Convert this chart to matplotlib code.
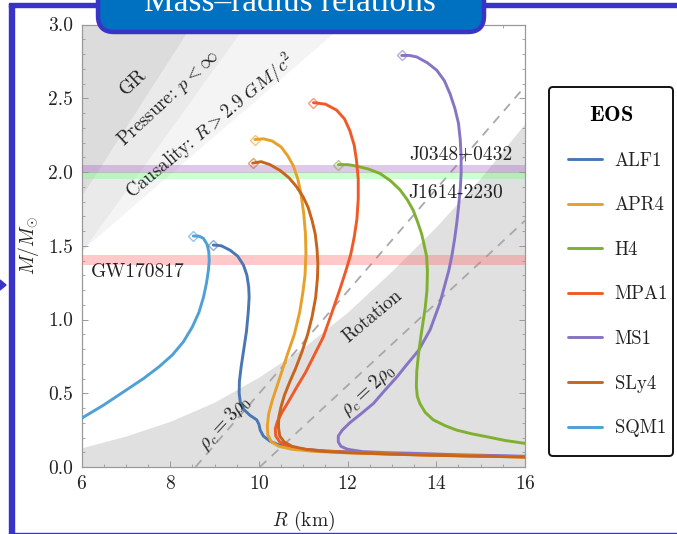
import matplotlib
matplotlib.use("Agg")
import matplotlib.pyplot as plt
import numpy as np
from matplotlib.patches import FancyBboxPatch, Rectangle, Polygon
from matplotlib.transforms import IdentityTransform
from matplotlib.ticker import MultipleLocator

plt.rcParams['font.family'] = 'serif'
plt.rcParams['font.serif'] = ['cmr10']
plt.rcParams['mathtext.fontset'] = 'cm'
plt.rcParams['axes.formatter.use_mathtext'] = True

# ---------------- data ----------------
eos_names = ["ALF1", "APR4", "H4", "MPA1", "MS1", "SLy4", "SQM1"]
eos_colors = ["#4a77b4", "#e8a02a", "#7fb030", "#f05a28", "#8774c4", "#c8641c", "#4ea0d6"]

alf1_R = [8.97, 9.15, 9.35, 9.52, 9.65, 9.73, 9.77, 9.78, 9.76, 9.72, 9.66, 9.60, 9.56, 9.555, 9.58, 9.66,
          9.80, 9.95, 10.0, 10.03, 10.10, 10.25, 10.45, 10.85, 11.5, 12.5, 13.5, 14.5, 16.0]
alf1_M = [1.505, 1.50, 1.47, 1.43, 1.37, 1.30, 1.22, 1.15, 1.05, 0.92, 0.80, 0.68, 0.58, 0.50, 0.44, 0.39,
          0.35, 0.32, 0.29, 0.25, 0.21, 0.175, 0.15, 0.125, 0.108, 0.096, 0.087, 0.079, 0.07]

apr4_R = [9.91, 10.1, 10.3, 10.5, 10.65, 10.78, 10.88, 10.95, 11.01, 11.05, 11.06, 11.04, 10.99, 10.92, 10.80,
          10.65, 10.52, 10.40, 10.30, 10.22, 10.19, 10.20, 10.28, 10.45, 10.75, 11.2, 12.0, 13.0, 14.0, 15.0, 16.0]
apr4_M = [2.22, 2.225, 2.21, 2.17, 2.11, 2.04, 1.95, 1.85, 1.72, 1.58, 1.45, 1.30, 1.18, 1.05, 0.90,
          0.77, 0.65, 0.54, 0.45, 0.36, 0.28, 0.22, 0.17, 0.14, 0.12, 0.107, 0.096, 0.087, 0.079, 0.073, 0.068]

h4_R = [11.79, 12.0, 12.2, 12.47, 12.73, 12.97, 13.18, 13.35, 13.48, 13.58, 13.67, 13.73, 13.78, 13.80, 13.79,
        13.75, 13.71, 13.65, 13.60, 13.56, 13.55, 13.57, 13.63, 13.75, 13.93, 14.2, 14.46, 14.8, 15.14, 15.55, 16.0]
h4_M = [2.05, 2.05, 2.04, 2.02, 1.99, 1.94, 1.88, 1.81, 1.74, 1.66, 1.58, 1.50, 1.43, 1.33, 1.20,
        1.08, 1.00, 0.88, 0.77, 0.65, 0.55, 0.48, 0.43, 0.37, 0.32, 0.28, 0.25, 0.225, 0.205, 0.18, 0.16]

mpa1_R = [11.23, 11.5, 11.75, 11.93, 12.05, 12.15, 12.20, 12.24, 12.24, 12.21, 12.15, 12.07, 11.95, 11.82, 11.65,
          11.45, 11.25, 11.05, 10.85, 10.68, 10.52, 10.42, 10.37, 10.38, 10.47, 10.65, 11.0, 11.5, 12.5, 13.5,
          14.5, 16.0]
mpa1_M = [2.47, 2.46, 2.42, 2.36, 2.28, 2.18, 2.08, 1.95, 1.82, 1.68, 1.56, 1.44, 1.32, 1.20, 1.05,
          0.88, 0.76, 0.64, 0.54, 0.45, 0.37, 0.31, 0.26, 0.21, 0.17, 0.14, 0.12, 0.108, 0.093, 0.084,
          0.077, 0.068]

ms1_R = [13.22, 13.4, 13.56, 13.8, 14.01, 14.18, 14.31, 14.42, 14.50, 14.54, 14.56, 14.56, 14.54, 14.50, 14.46,
         14.41, 14.35, 14.28, 14.18, 14.08, 13.97, 13.86, 13.73, 13.60, 13.35, 13.11, 12.84, 12.58, 12.30, 12.05,
         11.88, 11.79, 11.79, 11.85, 12.0, 12.35, 12.9, 13.48, 14.5, 16.0]
ms1_M = [2.79, 2.79, 2.78, 2.74, 2.69, 2.62, 2.53, 2.43, 2.33, 2.22, 2.10, 1.99, 1.88, 1.76, 1.65,
         1.54, 1.43, 1.33, 1.22, 1.11, 1.02, 0.93, 0.86, 0.79, 0.70, 0.61, 0.52, 0.43, 0.36, 0.30,
         0.25, 0.21, 0.17, 0.14, 0.12, 0.104, 0.097, 0.093, 0.083, 0.073]

sly4_R = [9.86, 10.05, 10.25, 10.48, 10.68, 10.85, 11.0, 11.11, 11.20, 11.27, 11.31, 11.33, 11.32, 11.28, 11.20,
          11.10, 10.97, 10.83, 10.70, 10.58, 10.50, 10.45, 10.44, 10.47, 10.57, 10.75, 11.05, 11.4, 12.0, 13.0,
          14.0, 15.0, 16.0]
sly4_M = [2.06, 2.07, 2.05, 2.01, 1.96, 1.90, 1.83, 1.76, 1.67, 1.58, 1.48, 1.38, 1.28, 1.15, 1.02,
          0.90, 0.78, 0.67, 0.58, 0.49, 0.41, 0.34, 0.27, 0.21, 0.17, 0.14, 0.12, 0.107, 0.097, 0.087,
          0.079, 0.073, 0.068]

sqm1_R = [8.52, 8.65, 8.75, 8.83, 8.87, 8.88, 8.86, 8.82, 8.75, 8.65, 8.50, 8.30, 8.05, 7.75, 7.40, 7.00, 6.50, 6.0]
sqm1_M = [1.566, 1.565, 1.55, 1.51, 1.46, 1.40, 1.33, 1.25, 1.15, 1.05, 0.95, 0.85, 0.76, 0.68, 0.60, 0.52, 0.42, 0.33]

curves_R = [alf1_R, apr4_R, h4_R, mpa1_R, ms1_R, sly4_R, sqm1_R]
curves_M = [alf1_M, apr4_M, h4_M, mpa1_M, ms1_M, sly4_M, sqm1_M]

# excluded-region edges (R, M)
gr_edge_R = [6.0, 8.5]
gr_edge_M = [1.83, 3.0]
pressure_edge_R = [6.0, 9.72]
pressure_edge_M = [1.45, 3.0]
causality_edge_R = [6.0, 11.9]
causality_edge_M = [1.47, 3.0]
rotation_R = [6, 7, 8, 9, 10, 11, 12, 13, 14, 15, 16]
rotation_M = [0.13, 0.21, 0.31, 0.44, 0.61, 0.81, 1.05, 1.33, 1.63, 1.96, 2.33]

# constant central density lines
rho3_R = [8.57, 16.0]
rho3_M = [0.0, 2.58]
rho2_R = [10.02, 16.0]
rho2_M = [0.0, 1.67]

# measured-mass bands (low, high)
j0348_band = (1.99, 2.05)
j1614_band = (1.95, 2.00)
gw_band = (1.37, 1.44)

xticks = [6, 8, 10, 12, 14, 16]
yticks = [0.0, 0.5, 1.0, 1.5, 2.0, 2.5, 3.0]

# ---------------- figure ----------------
W, H = 677, 534
fig = plt.figure(figsize=(W / 100, H / 100), dpi=100)
fig.patch.set_facecolor("white")

x0, x1, yt, yb = 81.5, 525.0, 24.5, 467.0
ax = fig.add_axes([x0 / W, 1 - yb / H, (x1 - x0) / W, (yb - yt) / H])
ax.set_xlim(6, 16)
ax.set_ylim(0, 3)

# excluded regions
ax.fill_between(causality_edge_R + [16], causality_edge_M + [3.0], 3.0, color="#f4f4f4", lw=0, zorder=1)
ax.fill([6] + pressure_edge_R, [3.0] + pressure_edge_M, color="#eaeaea", lw=0, zorder=1.1)
ax.fill([6] + gr_edge_R, [3.0] + gr_edge_M, color="#dcdcdc", lw=0, zorder=1.2)
ax.fill_between(rotation_R, 0, rotation_M, color="#e0e0e0", lw=0, zorder=1.3)

# density lines
ax.plot(rho3_R, rho3_M, color="#a8a8a8", lw=1.3, dashes=(5, 4), zorder=2)
ax.plot(rho2_R, rho2_M, color="#a8a8a8", lw=1.3, dashes=(5, 4), zorder=2)

# bands
ax.axhspan(*j1614_band, color=(0.45, 1.0, 0.45), alpha=0.35, lw=0, zorder=2.5)
ax.axhspan(*j0348_band, color=(0.62, 0.35, 0.72), alpha=0.32, lw=0, zorder=2.6)
ax.axhspan(*gw_band, color=(1.0, 0.4, 0.4), alpha=0.35, lw=0, zorder=2.6)

# curves
order = [6, 0, 4, 2, 3, 1, 5]
handles = {}
for i in order:
    ln, = ax.plot(curves_R[i], curves_M[i], color=eos_colors[i], lw=2.1, zorder=4 + 0.1 * order.index(i),
                  solid_joinstyle="round", solid_capstyle="round", label=eos_names[i])
    handles[i] = ln
    ax.plot(curves_R[i][0], curves_M[i][0], marker="D", ms=5, mfc="none", mec=eos_colors[i], mew=1.0,
            alpha=0.6, zorder=5)

# texts
ax.text(7.16, 2.61, "GR", rotation=43, ha="center", va="center", fontsize=14, color="#222222", zorder=6)
ax.text(7.95, 2.50, r"Pressure: $p < \infty$", rotation=43, ha="center", va="center", fontsize=13.5,
        color="#222222", zorder=6)
ax.text(8.9, 2.31, r"Causality: $R > 2.9\ GM/c^2$", rotation=40, ha="center", va="center", fontsize=13.5,
        color="#222222", zorder=6)
ax.text(6.22, 1.32, "GW170817", ha="left", va="center", fontsize=14, color="#222222", zorder=6)
ax.text(15.72, 2.12, "J0348+0432", ha="right", va="center", fontsize=14, color="#222222", zorder=6)
ax.text(15.5, 1.86, "J1614-2230", ha="right", va="center", fontsize=14, color="#222222", zorder=6)
ax.text(12.57, 1.02, "Rotation", rotation=40, ha="center", va="center", fontsize=13.5, color="#222222", zorder=6)
ax.text(12.47, 0.52, r"$\rho_c = 2\rho_0$", rotation=43, ha="center", va="center", fontsize=14,
        color="#222222", zorder=6)
ax.text(9.24, 0.30, r"$\rho_c = 3\rho_0$", rotation=47, ha="center", va="center", fontsize=14,
        color="#222222", zorder=6)

# axes styling
ax.set_xticks(xticks)
ax.set_yticks(yticks)
ax.set_yticklabels([f"{v:.1f}" for v in yticks])
ax.xaxis.set_minor_locator(MultipleLocator(0.5))
ax.yaxis.set_minor_locator(MultipleLocator(0.1))
ax.tick_params(which="both", direction="in", top=True, right=True, color="#999999", labelsize=14,
               labelcolor="#222222")
ax.tick_params(which="major", length=4.5, width=0.7, pad=6)
ax.tick_params(which="minor", length=2.2, width=0.6)
for s in ax.spines.values():
    s.set_color("#999999")
    s.set_linewidth(0.9)
ax.set_xlabel(r"$R$ (km)", fontsize=14, color="#222222", labelpad=11)
ax.set_ylabel(r"$M/M_{\odot}$", fontsize=14, color="#222222", labelpad=5)

# legend
leg = fig.legend([handles[i] for i in range(7)], eos_names, loc="upper left",
                 bbox_to_anchor=(549 / W, 1 - 87 / H, (673 - 549) / W, 0.0), mode="expand",
                 title=r"$\mathbf{EOS}$", title_fontsize=16, fontsize=13.5, frameon=True, fancybox=True,
                 edgecolor="#111111", framealpha=1, labelspacing=1.42, handlelength=1.8,
                 handletextpad=0.7, borderpad=1.0, borderaxespad=0)
leg.get_frame().set_linewidth(1.4)
for t in leg.get_texts():
    t.set_color("#222222")

# slide decorations (pixel coordinates)
idt = IdentityTransform()
blue_edge = "#3a33c8"
fig.patches.append(Rectangle((9, 0), 5, H - 4, transform=idt, color=blue_edge, zorder=10))
fig.patches.append(Rectangle((9, H - 7), W - 9, 4, transform=idt, color=blue_edge, zorder=10))
fig.patches.append(Rectangle((9, 0), W - 9, 1.5, transform=idt, color=blue_edge, zorder=10))
fig.patches.append(Polygon([(0, H - 280), (6, H - 285), (0, H - 290)], closed=True, transform=idt,
                           color=blue_edge, zorder=10))
box = FancyBboxPatch((98, H - 32), 386, 60, boxstyle="round,pad=0,rounding_size=16", transform=idt,
                     facecolor="#0070c0", edgecolor=blue_edge, lw=3.2, zorder=11)
fig.patches.append(box)
fig.text(290 / W, 1 - 3 / H, "Mass\u2013radius relations", ha="center", va="center", fontsize=24,
         color="white", family="Liberation Serif", zorder=12)

fig.savefig("out.png", dpi=100)
